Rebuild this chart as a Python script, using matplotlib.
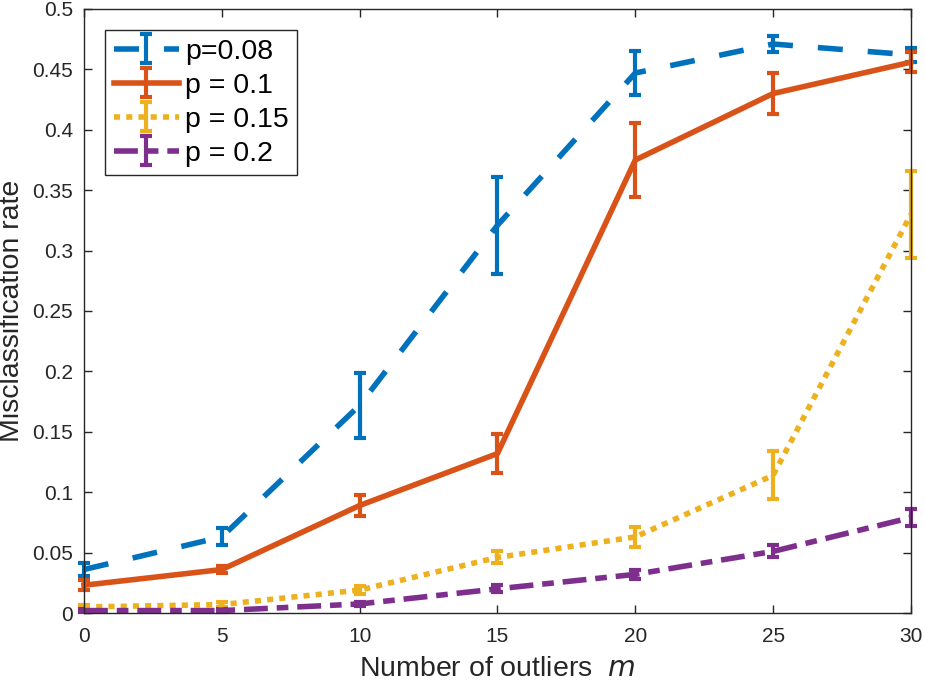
import matplotlib
matplotlib.use("Agg")
import matplotlib.pyplot as plt
from matplotlib.ticker import FormatStrFormatter

# ── data ──
outliers = [0, 5, 10, 15, 20, 25, 30]

rate_p008 = [0.036, 0.063, 0.172, 0.321, 0.447, 0.471, 0.462]
err_p008 = [0.005, 0.007, 0.027, 0.040, 0.018, 0.007, 0.006]

rate_p01 = [0.023, 0.036, 0.089, 0.132, 0.375, 0.430, 0.456]
err_p01 = [0.004, 0.003, 0.009, 0.016, 0.031, 0.017, 0.008]

rate_p015 = [0.005, 0.007, 0.019, 0.046, 0.063, 0.114, 0.330]
err_p015 = [0.002, 0.002, 0.003, 0.005, 0.008, 0.020, 0.036]

rate_p02 = [0.002, 0.002, 0.0075, 0.020, 0.032, 0.051, 0.079]
err_p02 = [0.0015, 0.0015, 0.002, 0.003, 0.004, 0.005, 0.007]

labels = ["p=0.08", "p = 0.1", "p = 0.15", "p = 0.2"]
yticks = [0, 0.05, 0.1, 0.15, 0.2, 0.25, 0.3, 0.35, 0.4, 0.45, 0.5]

# MATLAB default colours
colors = ["#0072BD", "#D95319", "#EDB120", "#7E2F8E"]
dashes = [(4.5, 4.5), (), (1.1, 1.1), (4.3, 1.6, 2.1, 1.6)]

plt.rcParams["font.family"] = ["Liberation Sans", "DejaVu Sans"]

fig = plt.figure(figsize=(9.25, 6.86), dpi=100)
ax = fig.add_axes([0.0908, 0.1064, 0.894, 0.8805])

series = [(rate_p008, err_p008), (rate_p01, err_p01),
          (rate_p015, err_p015), (rate_p02, err_p02)]

for (y, e), c, d, lab in zip(series, colors, dashes, labels):
    cont = ax.errorbar(outliers, y, yerr=e, color=c, lw=4.0,
                       elinewidth=3.0, capsize=4.5, capthick=3.0,
                       label=lab, clip_on=False)
    line = cont.lines[0]
    if d:
        line.set_dashes(d)
    line.set_dash_capstyle("butt")

ax.set_xlim(0, 30)
ax.set_ylim(0, 0.5)
ax.set_xticks(outliers)
ax.set_yticks(yticks)
ax.yaxis.set_major_formatter(FormatStrFormatter("%g"))

for s in ax.spines.values():
    s.set_color("#262626")
    s.set_linewidth(1.0)
ax.tick_params(direction="in", length=6, width=1.0, top=True, right=True,
               labelsize=15, colors="#262626", labelcolor="#262626")
ax.tick_params(axis="x", pad=10)
ax.tick_params(axis="y", pad=8)

ax.set_xlabel("Number of outliers  $\\mathit{m}$", fontsize=20.5,
              color="#262626", labelpad=7)
ax.set_ylabel("Misclassification rate", fontsize=20.5, color="#262626",
              labelpad=5)

leg = ax.legend(loc="upper left", bbox_to_anchor=(0.0254, 0.965),
                fontsize=20.5, handlelength=2.3, handletextpad=0.2,
                borderpad=0.3, labelspacing=0.28, fancybox=False,
                framealpha=1, edgecolor="#262626", borderaxespad=0)
leg.get_frame().set_linewidth(1.0)

fig.savefig("out.png", dpi=100)
